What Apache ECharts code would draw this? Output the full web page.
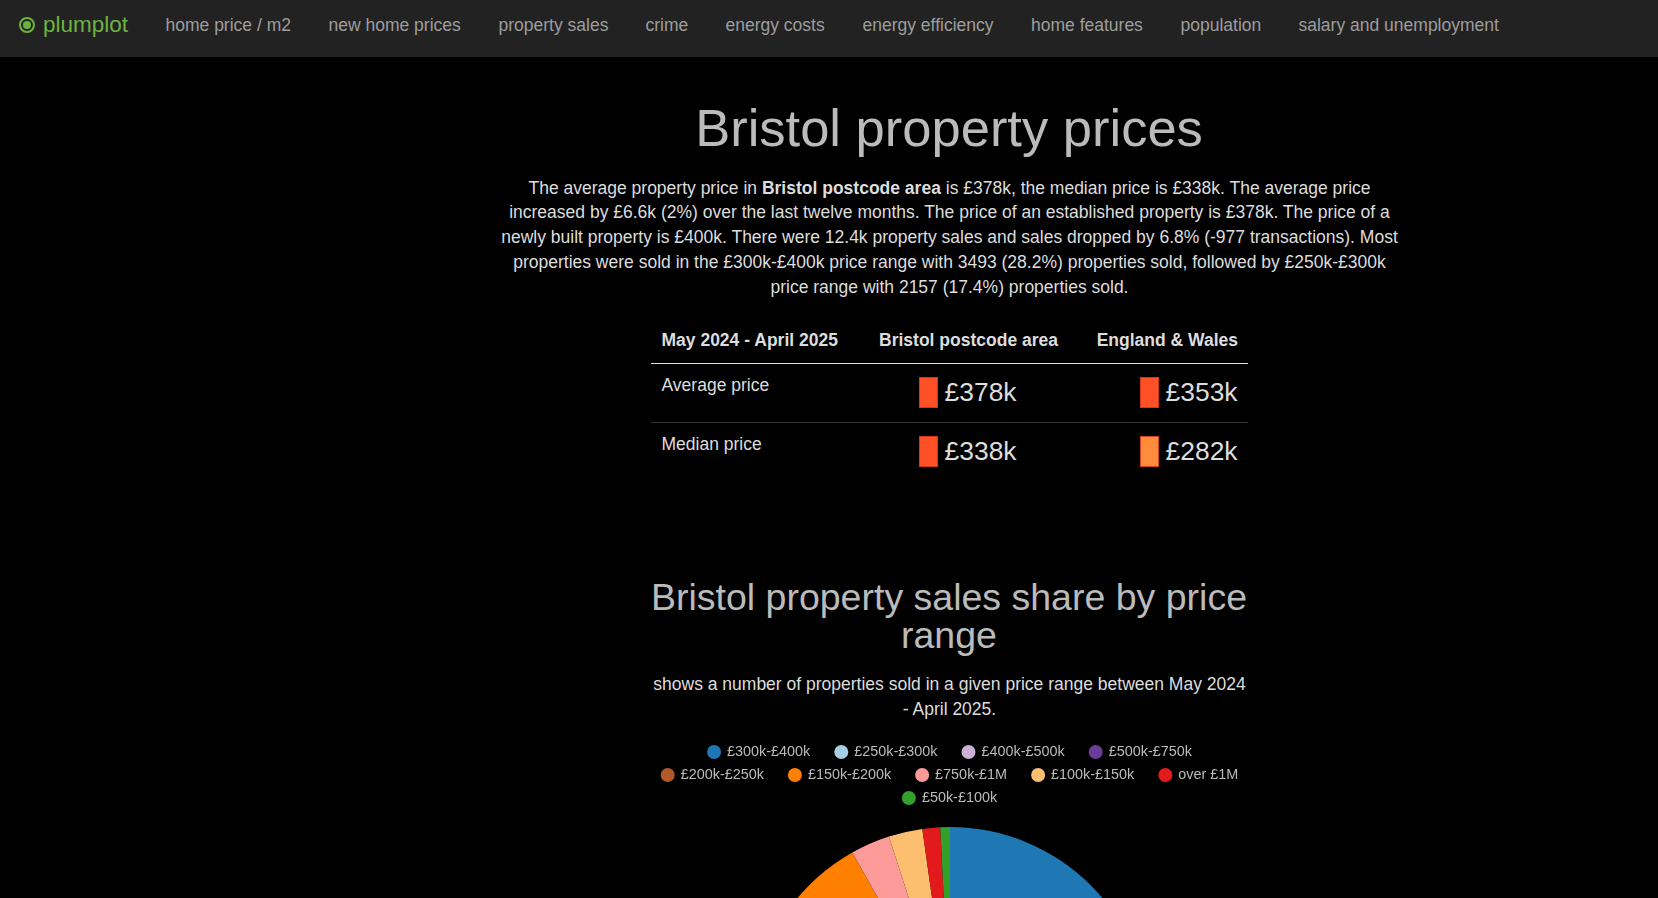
<!DOCTYPE html>
<html>
<head>
<meta charset="utf-8">
<title>Bristol property prices</title>
<script src="https://cdn.jsdelivr.net/npm/echarts@6/dist/echarts.min.js"></script>
<style>
html, body { margin: 0; padding: 0; background: #000; overflow: hidden; height: 100%; }
body { font-family: "Liberation Sans", Arial, sans-serif; color: #ddd; position: relative; width: 1658px; height: 898px; }
.nav { position: absolute; left: 0; top: 0; width: 100%; height: 57px; background: #222; }
.nav a { position: absolute; top: 0; line-height: 50px; font-size: 17.5px; color: #9d9d9d; white-space: nowrap; }
.nav .brand { left: 43px; font-size: 22.5px; color: #6db33f; }
.nav .dot { position: absolute; left: 19px; top: 17px; width: 12px; height: 12px; border: 2px solid #6db33f; border-radius: 50%; box-sizing: content-box; }
.nav .dot i { position: absolute; left: 2px; top: 2px; width: 8px; height: 8px; background: #6db33f; border-radius: 50%; }
h1, h2 { position: absolute; margin: 0; font-weight: normal; color: #bbb; text-align: center; white-space: nowrap; }
h1 { left: 449px; width: 1000px; top: 96px; font-size: 52.5px; line-height: 64px; }
h2 { left: 549px; width: 800px; top: 578px; font-size: 37.5px; line-height: 38px; }
p { position: absolute; margin: 0; text-align: center; font-size: 17.5px; line-height: 24.9px; }
#intro { left: 449.5px; width: 1000px; top: 175.5px; }
#sub { left: 651px; width: 597px; top: 672px; }
.tbl { position: absolute; left: 651px; top: 320px; width: 597px; }
.tbl div { position: absolute; white-space: nowrap; }
.th { font-weight: bold; font-size: 17.5px; top: 9.5px; }
.rule { left: 0; width: 597px; height: 1px; }
.lab { left: 10.5px; font-size: 17.5px; }
.val { right: 10.5px; font-size: 26.4px; }
.sw { width: 19px; height: 31px; box-sizing: border-box; border: 1px solid rgba(200,50,20,0.8); }
#chart { position: absolute; left: 651px; top: 730px; width: 597px; height: 560px; }
</style>
</head>
<body>
<div class="nav" id="nav"><span class="dot"><i></i></span><a class="brand">plumplot</a></div>
<h1>Bristol property prices</h1>
<p id="intro">The average property price in <b>Bristol postcode area</b> is £378k, the median price is £338k. The average price<br>increased by £6.6k (2%) over the last twelve months. The price of an established property is £378k. The price of a<br>newly built property is £400k. There were 12.4k property sales and sales dropped by 6.8% (-977 transactions). Most<br>properties were sold in the £300k-£400k price range with 3493 (28.2%) properties sold, followed by £250k-£300k<br>price range with 2157 (17.4%) properties sold.</p>
<div class="tbl">
  <div class="th" style="left:10.5px">May 2024 - April 2025</div>
  <div class="th" style="right:190px">Bristol postcode area</div>
  <div class="th" style="right:10px">England &amp; Wales</div>
  <div class="rule" style="top:43px;background:#ddd"></div>
  <div class="lab" style="top:55px">Average price</div>
  <div class="sw" style="left:268px;top:57px;background:#ff5028"></div>
  <div class="val" style="right:231.5px;top:56.5px">£378k</div>
  <div class="sw" style="left:489px;top:57px;background:#ff5028"></div>
  <div class="val" style="top:56.5px">£353k</div>
  <div class="rule" style="top:102px;background:#333"></div>
  <div class="lab" style="top:114px">Median price</div>
  <div class="sw" style="left:268px;top:116px;background:#ff5028"></div>
  <div class="val" style="right:231.5px;top:115.5px">£338k</div>
  <div class="sw" style="left:489px;top:116px;background:#ff8c3c"></div>
  <div class="val" style="top:115.5px">£282k</div>
</div>
<h2>Bristol property sales share by price<br>range</h2>
<p id="sub">shows a number of properties sold in a given price range between May 2024<br>- April 2025.</p>
<div id="chart"></div>
<script>
var navLabels = ['home price / m2', 'new home prices', 'property sales', 'crime', 'energy costs', 'energy efficiency', 'home features', 'population', 'salary and unemployment'];
var navLefts = [165.5, 328.5, 498.5, 645.5, 725.5, 862.5, 1031, 1180.5, 1298.5];

var priceRanges = ['£300k-£400k', '£250k-£300k', '£400k-£500k', '£500k-£750k', '£200k-£250k', '£150k-£200k', '£750k-£1M', '£100k-£150k', 'over £1M', '£50k-£100k'];
var salesCounts = [3493, 2157, 1881, 1550, 1425, 867, 396, 340, 178, 97];
var sliceColors = ['#1f78b4', '#a6cee3', '#cab2d6', '#6a3d9a', '#b15928', '#ff7f00', '#fb9a99', '#fdbf6f', '#e31a1c', '#33a02c'];

var nav = document.getElementById('nav');
navLabels.forEach(function (label, i) {
    var a = document.createElement('a');
    a.textContent = label;
    a.style.left = navLefts[i] + 'px';
    nav.appendChild(a);
});

var myChart = echarts.init(document.getElementById('chart'));

// legend gap also drives the wrap pitch, so each row is its own legend
var legendRows = [priceRanges.slice(0, 4), priceRanges.slice(4, 9), priceRanges.slice(9)];
var legend = legendRows.map(function (row, i) {
    return {
        data: row,
        top: 10 + i * 23,
        left: 'center',
        icon: 'circle',
        itemWidth: 14,
        itemHeight: 14,
        itemGap: 24,
        selectedMode: false,
        textStyle: { color: '#bbb', fontSize: 14.4, fontFamily: '"Liberation Sans", Arial, sans-serif', padding: [0, 0, 0, 1] }
    };
});

var sd = priceRanges.map(function (name, i) {
    return { name: name, value: salesCounts[i], itemStyle: { color: sliceColors[i] } };
});

myChart.setOption({
    animation: false,
    legend: legend,
    series: [{
        type: 'pie',
        data: sd,
        radius: [0, 199],
        center: [299, 296],
        startAngle: 90,
        silent: true,
        label: { show: false },
        labelLine: { show: false }
    }]
});
</script>
</body>
</html>
